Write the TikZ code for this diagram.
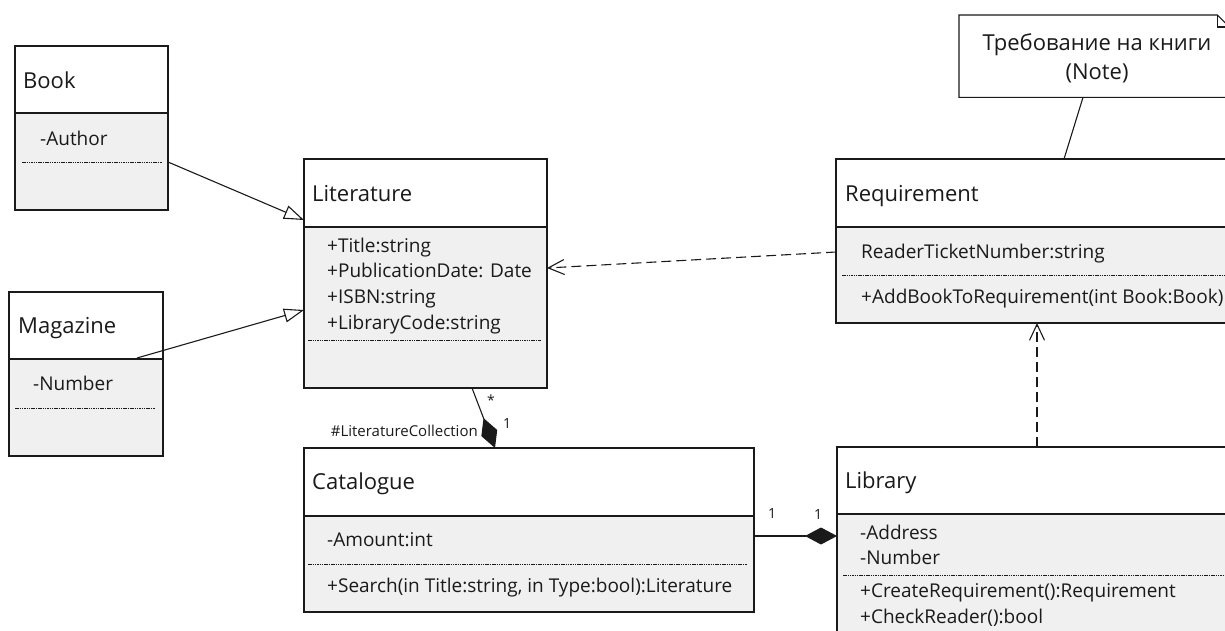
\documentclass[tikz,border=0pt]{standalone}
\usepackage{fontspec}
\setmainfont{Open Sans}
\usetikzlibrary{arrows.meta}
\definecolor{bodygrey}{HTML}{F0F0F0}
\definecolor{ink}{HTML}{1A1A1A}

\tikzset{
  classbox/.style={draw=ink, fill=bodygrey, line width=1.2pt, rectangle, inner sep=0pt, outer sep=0pt},
  divider/.style={draw=ink, line width=1.2pt},
  opsep/.style={draw=ink, line width=0.8pt, dash pattern=on 1.5pt off 0.8pt},
  ctitle/.style={anchor=west, inner sep=0pt, yshift=-6pt, text height=0.72em, text depth=0.22em, font=\fontsize{22}{26}\selectfont, text=ink},
  member/.style={anchor=west, inner sep=0pt, yshift=-4pt, text height=0.72em, text depth=0.22em, font=\fontsize{19}{22}\selectfont, text=ink},
  mult/.style={inner sep=0pt, font=\fontsize{14}{16}\selectfont, text=ink},
  gen/.style={draw=ink, line width=1.1pt, -{Triangle[open, length=20pt, width=14pt, fill=white]}},
  dep/.style={draw=ink, line width=1.1pt, dash pattern=on 10pt off 5pt, -{Straight Barb[length=16pt, width=15pt]}},
  comp/.style={draw=ink, line width=1.1pt, -{Diamond[length=32pt, width=17pt, fill=ink]}},
  noteline/.style={draw=ink, line width=1.1pt},
}

% class frame: name, left, top, width, height, header height
\newcommand\umlclass[6]{%
  \node[classbox, minimum width=#4pt, minimum height=#5pt, anchor=north west] (#1) at (#2,#3) {};
  \fill[white] ([shift={(0.6pt,-0.6pt)}]#1.north west) rectangle ([shift={(-0.6pt,-#6pt)}]#1.north east);
  \draw[divider] ([yshift=-#6pt]#1.north west) -- ([yshift=-#6pt]#1.north east);
}
% dotted separator between attributes and operations: name, offset from top, left inset, right inset
\newcommand\umlsep[4]{%
  \draw[opsep] ([shift={(#3pt,-#2pt)}]#1.north west) -- ([shift={(-#4pt,-#2pt)}]#1.north east);
}

\begin{document}
\begin{tikzpicture}[x=1pt, y=-1pt]
\useasboundingbox (0,0) rectangle (1225,631);
\clip (0,0) rectangle (1225,631);

% ---- Book ----
\umlclass{book}{15}{46}{153}{164}{67}
\node[ctitle] (bookT) at (23,80) {Book};
\node[member] (bookA) at (40,139) {-Author};
\umlsep{book}{116}{7}{6}

% ---- Magazine ----
\umlclass{mag}{9}{292}{154}{164}{67}
\node[ctitle] (magT) at (18,325) {Magazine};
\node[member] (magA) at (33,384) {-Number};
\umlsep{mag}{116}{6}{8}

% ---- Literature ----
\umlclass{lit}{304}{159}{243}{229}{68}
\node[ctitle] (litT) at (312,193) {Literature};
\node[member] (litA1) at (327,246) {+Title:string};
\node[member] (litA2) at (327,271) {+PublicationDate: Date};
\node[member] (litA3) at (327,297) {+ISBN:string};
\node[member] (litA4) at (327,323) {+LibraryCode:string};
\umlsep{lit}{181}{4}{6}

% ---- Catalogue ----
\umlclass{cat}{304}{448}{450}{164}{68}
\node[ctitle] (catT) at (312,481) {Catalogue};
\node[member] (catA) at (327,540) {-Amount:int};
\umlsep{cat}{116}{4}{7}
\node[member] (catO) at (327,586) {+Search(in Title:string, in Type:bool):Literature};

% ---- Requirement ----
\umlclass{req}{836}{159}{420}{164}{68}
\node[ctitle] (reqT) at (845,193) {Requirement};
\node[member] (reqA) at (861,252) {ReaderTicketNumber:string};
\umlsep{req}{116}{6}{6}
\node[member] (reqO) at (861,297) {+AddBookToRequirement(int Book:Book)};

% ---- Library ----
\umlclass{lib}{837}{447}{420}{200}{67}
\node[ctitle] (libT) at (845,480) {Library};
\node[member] (libA1) at (860,533) {-Address};
\node[member] (libA2) at (860,558) {-Number};
\umlsep{lib}{128}{6}{6}
\node[member] (libO1) at (860,591) {+CreateRequirement():Requirement};
\node[member] (libO2) at (860,617) {+CheckReader():bool};

% ---- Note with folded corner ----
\node[minimum width=270pt, minimum height=82pt, inner sep=0pt, anchor=north west] (note) at (959,15) {};
\draw[noteline, fill=white] (note.north west) -- ([xshift=-12pt]note.north east)
  -- ([yshift=-12pt]note.north east) -- (note.south east) -- (note.south west) -- cycle;
\draw[noteline] ([xshift=-12pt]note.north east) -- ([shift={(-12pt,-12pt)}]note.north east)
  -- ([yshift=-12pt]note.north east);
\node[align=center, font=\fontsize{22}{29}\selectfont, text=ink, inner sep=0pt] (noteText) at (1097,58) {Требование на книги\\(Note)};

% ---- Connectors ----
\draw[gen] ([yshift=-116pt]book.north east) -- ([yshift=-61pt]lit.north west);
\draw[gen] ([shift={(128pt,-66pt)}]mag.north west) -- ([yshift=-151pt]lit.north west);

\draw[comp] ([xshift=168pt]lit.south west) -- ([xshift=191pt]cat.north west);
\node[mult] (mStar) at (491,400) {*};
\node[mult] (mOneL) at (507,423) {1};
\node[mult, font=\fontsize{15}{17}\selectfont, anchor=east] (role) at (478,431) {\#LiteratureCollection};

\draw[comp] ([yshift=-88pt]cat.north east) -- ([yshift=-89pt]lib.north west);
\node[mult] (mOneC) at (772,513) {1};
\node[mult] (mOneB) at (818,514) {1};

\draw[dep] ([yshift=-93pt]req.north west) -- ([yshift=-109pt]lit.north east);
\draw[dep] ([xshift=200pt]lib.north west) -- ([xshift=201pt]req.south west);

\draw[noteline] ([xshift=124pt]note.south west) -- ([xshift=228pt]req.north west);
\end{tikzpicture}
\end{document}
